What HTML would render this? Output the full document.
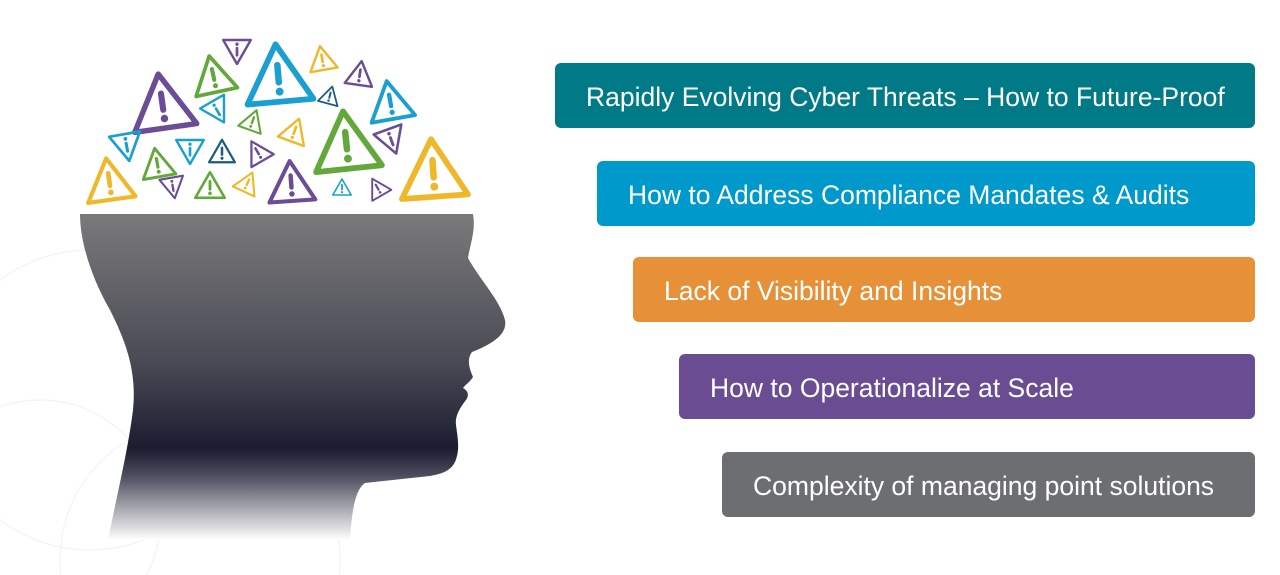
<!DOCTYPE html>
<html><head><meta charset="utf-8"><style>
html,body{margin:0;width:1280px;height:575px;overflow:hidden}
body{background:#fff;position:relative;font-family:"Liberation Sans",sans-serif}
.bar{position:absolute;right:25px;height:65px;border-radius:6px;color:#fff;font-size:26.5px;line-height:69px;padding-left:31px;box-sizing:border-box;white-space:nowrap}
</style></head><body>
<svg width="560" height="575" style="position:absolute;left:0;top:0;display:block">
<defs>
<linearGradient id="g" x1="0" y1="0" x2="0" y2="1" gradientUnits="objectBoundingBox">
<stop offset="0" stop-color="#7a7a7b"/><stop offset="0.45" stop-color="#4a4a55"/><stop offset="0.72" stop-color="#1b1c30"/><stop offset="0.8" stop-color="#4a4b5c"/><stop offset="1" stop-color="#ffffff"/>
</linearGradient>
<symbol id="t" viewBox="0 0 100 90"><polygon points="50,5 96,85 4,85" fill="none" stroke="currentColor" stroke-width="8" stroke-linejoin="round"/><line x1="50" y1="34" x2="50" y2="58" stroke="currentColor" stroke-width="9" stroke-linecap="round"/><circle cx="50" cy="71" r="5.5" fill="currentColor"/></symbol>
</defs>
<g fill="none" stroke="#f3f3f5" stroke-width="1.2">
<circle cx="90" cy="400" r="150"/><circle cx="40" cy="520" r="120"/><circle cx="200" cy="560" r="140"/>
</g>
<path d="M80,214 L473,214 C476,230 470,245 468,258 C480,280 500,300 505,320 C508,335 490,345 472,352 C466,360 470,370 473,377 C470,382 465,385 463,388 C470,392 468,397 466,400 C458,410 455,418 456,425 C458,440 460,450 455,462 C450,472 440,474 430,476 L365,483 C355,490 352,510 350,540 L108,540 C118,490 128,450 133,410 C137,370 125,340 110,310 C90,275 80,240 80,214 Z" fill="url(#g)"/>
<g>
<use href="#t" x="128" y="70" width="68" height="62" color="#6b4c96" transform="rotate(-8 162 101)"/>
<use href="#t" x="190" y="53" width="46" height="42" color="#62a83a" transform="rotate(-12 213 74)"/>
<use href="#t" x="222" y="38" width="30" height="28" color="#6b4c96" transform="rotate(180 237 52)"/>
<use href="#t" x="242" y="40" width="72" height="66" color="#1b9fd0" transform="rotate(-5 278 73)"/>
<use href="#t" x="307" y="44" width="30" height="28" color="#efb72a" transform="rotate(-10 322 58)"/>
<use href="#t" x="345" y="59" width="30" height="28" color="#6b4c96" transform="rotate(8 360 73)"/>
<use href="#t" x="319" y="85" width="22" height="20" color="#1d5a86" transform="rotate(15 330 95)"/>
<use href="#t" x="366" y="78" width="48" height="44" color="#1b9fd0" transform="rotate(-10 390 100)"/>
<use href="#t" x="203" y="98" width="30" height="28" color="#1b9fd0" transform="rotate(150 218 112)"/>
<use href="#t" x="240" y="108" width="26" height="24" color="#62a83a" transform="rotate(20 253 120)"/>
<use href="#t" x="280" y="116" width="30" height="28" color="#efb72a" transform="rotate(20 295 130)"/>
<use href="#t" x="310" y="107" width="72" height="66" color="#62a83a" transform="rotate(-6 346 140)"/>
<use href="#t" x="376" y="128" width="32" height="29" color="#6b4c96" transform="rotate(160 392 142)"/>
<use href="#t" x="397" y="135" width="72" height="66" color="#efb72a" transform="rotate(-4 433 168)"/>
<use href="#t" x="110" y="133" width="34" height="31" color="#1b9fd0" transform="rotate(170 127 148)"/>
<use href="#t" x="139" y="146" width="36" height="33" color="#62a83a" transform="rotate(-10 157 162)"/>
<use href="#t" x="175" y="138" width="30" height="28" color="#1b9fd0" transform="rotate(180 190 152)"/>
<use href="#t" x="208" y="138" width="28" height="26" color="#1d5a86"/>
<use href="#t" x="243" y="138" width="28" height="26" color="#6b4c96" transform="rotate(-30 257 151)"/>
<use href="#t" x="83" y="155" width="52" height="48" color="#efb72a" transform="rotate(-8 109 179)"/>
<use href="#t" x="160" y="176" width="26" height="24" color="#6b4c96" transform="rotate(170 173 188)"/>
<use href="#t" x="194" y="170" width="32" height="30" color="#62a83a"/>
<use href="#t" x="235" y="170" width="26" height="24" color="#efb72a" transform="rotate(25 248 182)"/>
<use href="#t" x="266" y="158" width="50" height="46" color="#6b4c96" transform="rotate(-4 291 181)"/>
<use href="#t" x="332" y="178" width="20" height="18" color="#1b9fd0"/>
<use href="#t" x="365" y="176" width="24" height="22" color="#6b4c96" transform="rotate(-30 377 187)"/>
</g>
</svg>
<div class="bar" style="left:555px;top:63px;background:#007a87">Rapidly Evolving Cyber Threats – How to Future-Proof</div>
<div class="bar" style="left:597px;top:161px;background:#0099cc">How to Address Compliance Mandates &amp; Audits</div>
<div class="bar" style="left:633px;top:257px;background:#e69138">Lack of Visibility and Insights</div>
<div class="bar" style="left:679px;top:354px;background:#6a4c93">How to Operationalize at Scale</div>
<div class="bar" style="left:722px;top:452px;background:#6d6e71">Complexity of managing point solutions</div>
</body></html>
